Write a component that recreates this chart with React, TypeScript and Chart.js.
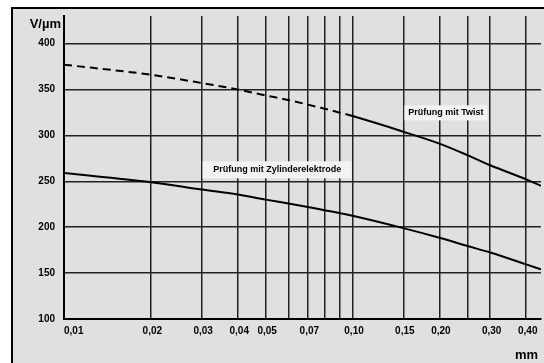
import React, { useEffect, useRef } from "react";
import { Chart, registerables } from "chart.js";

Chart.register(...registerables);

// ---- data ----
const sizes = [0.01, 0.02, 0.03, 0.04, 0.05, 0.06, 0.07, 0.08, 0.09, 0.1, 0.15, 0.2, 0.25, 0.3, 0.4, 0.45];
const twist = [377, 366, 357, 350, 343.5, 338.5, 333.5, 329, 325, 321, 304, 291, 278.5, 267.5, 252, 245];
const zylinder = [259, 249, 241, 235.5, 230, 225.8, 222, 218.5, 215.5, 212.5, 199, 188.5, 179.5, 172.5, 159.5, 154];

const xTicks = [0.01, 0.02, 0.03, 0.04, 0.05, 0.06, 0.07, 0.08, 0.09, 0.1, 0.15, 0.2, 0.25, 0.3, 0.4];
const xTickLabels = ["0,01", "0,02", "0,03", "0,04", "0,05", "", "0,07", "", "", "0,10", "0,15", "0,20", "", "0,30", "0,40"];
const yTicks = [100, 150, 200, 250, 300, 350, 400];

const yUnit = "V/µm";
const xUnit = "mm";
const twistLabel = "Prüfung mit Twist";
const zylLabel = "Prüfung mit Zylinderelektrode";

const FONT = "'Liberation Sans', Arial, sans-serif";

export default function App() {
  const ref = useRef<HTMLCanvasElement | null>(null);

  useEffect(() => {
    if (!ref.current) return;
    const textPlugin = {
      id: "texts",
      afterDraw(chart: any) {
        const ctx = chart.ctx;
        const xs = chart.scales.x;
        const ys = chart.scales.y;
        const area = chart.chartArea;
        ctx.save();
        // x tick labels
        ctx.font = `bold 10px ${FONT}`;
        ctx.fillStyle = "#000";
        ctx.textBaseline = "middle";
        xTicks.forEach((v, i) => {
          const lbl = xTickLabels[i];
          if (!lbl) return;
          const px = xs.getPixelForValue(v);
          ctx.textAlign = i === 0 ? "left" : "center";
          ctx.fillText(lbl, i === 0 ? px : px + 1.5, area.bottom + 12);
        });
        // units
        ctx.font = `bold 13px ${FONT}`;
        ctx.textAlign = "right";
        ctx.textBaseline = "alphabetic";
        ctx.fillText(yUnit, area.left - 3, 28);
        ctx.fillText(xUnit, area.right - 3, 359);
        // annotation boxes
        const box = (cx: number, cy: number, w: number, h: number, t: string) => {
          ctx.fillStyle = "#f3f3f3";
          ctx.fillRect(cx - w / 2, cy - h / 2, w, h);
          ctx.fillStyle = "#000";
          ctx.font = `bold 9px ${FONT}`;
          ctx.textAlign = "center";
          ctx.textBaseline = "middle";
          ctx.fillText(t, cx, cy);
        };
        box(xs.getPixelForValue(0.2107), ys.getPixelForValue(324.5), 83, 15, twistLabel);
        box(xs.getPixelForValue(0.0548), ys.getPixelForValue(262.5), 149, 17, zylLabel);
        ctx.restore();
      },
    };

    const chart = new Chart(ref.current, {
      type: "line",
      data: {
        datasets: [
          {
            label: twistLabel,
            data: sizes.map((x, i) => ({ x, y: twist[i] })),
            borderColor: "#000",
            borderWidth: 2,
            pointRadius: 0,
            fill: false,
            cubicInterpolationMode: "monotone",
            segment: {
              borderDash: (c: any) => (c.p1DataIndex <= 9 ? [8, 5] : undefined),
            },
          },
          {
            label: zylLabel,
            data: sizes.map((x, i) => ({ x, y: zylinder[i] })),
            borderColor: "#000",
            borderWidth: 2,
            pointRadius: 0,
            fill: false,
            cubicInterpolationMode: "monotone",
          },
        ],
      },
      options: {
        responsive: false,
        animation: false,
        layout: { padding: { top: 16, right: 3, left: 0, bottom: 0 } },
        plugins: { legend: { display: false }, tooltip: { enabled: false } },
        scales: {
          x: {
            type: "logarithmic",
            min: 0.01,
            max: 0.45,
            afterBuildTicks: (s: any) => {
              s.ticks = xTicks.map((v) => ({ value: v }));
            },
            afterFit: (s: any) => {
              s.height = 44;
            },
            ticks: { display: false, autoSkip: false },
            grid: { color: "#222", lineWidth: 1.5, drawTicks: false },
            border: { display: true, color: "#000", width: 2 },
          },
          y: {
            type: "linear",
            min: 100,
            max: 430,
            afterBuildTicks: (s: any) => {
              s.ticks = yTicks.map((v) => ({ value: v }));
            },
            afterFit: (s: any) => {
              s.width = 64;
            },
            ticks: {
              padding: 9,
              color: "#000",
              font: { family: FONT, size: 10, weight: "bold" },
            },
            grid: { color: "#222", lineWidth: 1.5, drawTicks: false },
            border: { display: true, color: "#000", width: 2 },
          },
        },
      },
      plugins: [textPlugin],
    } as any);
    return () => chart.destroy();
  }, []);

  return (
    <div style={{ position: "fixed", left: 0, top: 0, width: 544, height: 363, background: "#fff", overflow: "hidden" }}>
      <div
        style={{
          position: "absolute",
          left: 11,
          top: 7,
          width: 560,
          height: 380,
          border: "2px solid #000",
          background: "#e0e0e0",
        }}
      />
      <canvas ref={ref} width={544} height={363} style={{ position: "absolute", left: 0, top: 0 }} />
    </div>
  );
}
